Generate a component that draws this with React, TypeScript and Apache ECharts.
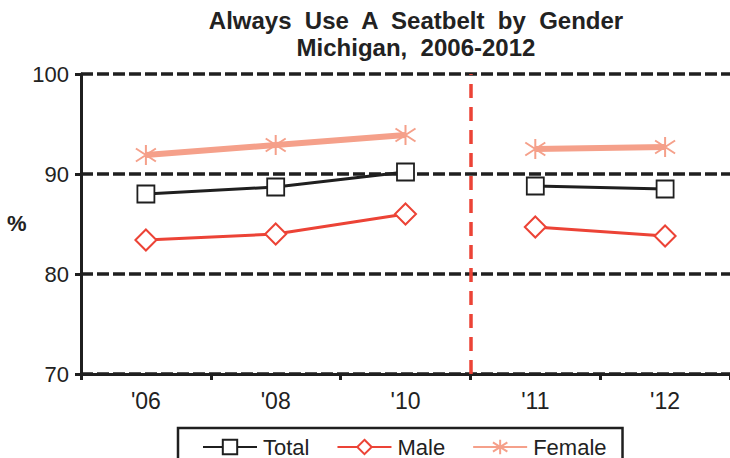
import React, { useEffect, useRef } from "react";
import * as echarts from "echarts";

const categories = ["'06", "'08", "'10", "'11", "'12"];
const totalValues = [88.0, 88.7, 90.2, 88.8, 88.5];
const maleValues = [83.4, 84.0, 86.0, 84.7, 83.8];
const femaleValues = [91.9, 92.9, 93.9, 92.5, 92.7];
const yTicks = [70, 80, 90, 100];
const breakAfterIndex = 3; // boundary between '10 and '11

const FONT = "'Liberation Sans', Arial, sans-serif";
const BLACK = "#1f1f1f";
const RED = "#ec4336";
const SALMON = "#f5a08a";
const STAR = "path://M10,0L10,20M1.5,3.5L18.5,16.5M1.5,16.5L18.5,3.5";

function split(values: number[], part: 0 | 1) {
  return values.map((v, i) =>
    part === 0 ? (i < breakAfterIndex ? v : null) : i >= breakAfterIndex ? v : null
  );
}

export default function App() {
  const ref = useRef<HTMLDivElement>(null);
  useEffect(() => {
    if (!ref.current) return;
    const chart = echarts.init(ref.current, null, { renderer: "svg" });
    const mk = (name: string, values: number[], part: 0 | 1, cfg: any) => ({
      name,
      type: "line",
      data: split(values, part),
      connectNulls: false,
      ...cfg,
    });
    const totalCfg = {
      symbol: "rect",
      symbolSize: 17,
      lineStyle: { color: BLACK, width: 3 },
      itemStyle: { color: "#ffffff", borderColor: BLACK, borderWidth: 1.8 },
      z: 3,
    };
    const maleCfg = {
      symbol: "diamond",
      symbolSize: [21, 21],
      lineStyle: { color: RED, width: 3 },
      itemStyle: { color: "#ffffff", borderColor: RED, borderWidth: 2 },
      z: 2,
    };
    const femaleCfg = {
      symbol: STAR,
      symbolSize: 20,
      lineStyle: { color: SALMON, width: 6 },
      itemStyle: { color: SALMON, borderColor: SALMON, borderWidth: 2 },
      z: 2,
    };
    chart.setOption({
      animation: false,
      title: {
        text: "Always  Use  A  Seatbelt  by  Gender\nMichigan,  2006-2012",
        left: 411,
        textAlign: "center",
        top: 2,
        textStyle: {
          fontFamily: FONT,
          fontSize: 24,
          fontWeight: "bold",
          color: "#222",
          lineHeight: 27,
        },
      },
      graphic: [
        {
          type: "text",
          left: 7,
          top: 212,
          style: { text: "%", font: `bold 22px ${FONT}`, fill: "#222" },
        },
      ],
      legend: {
        top: 428,
        left: 178,
        orient: "horizontal",
        data: ["Total", "Male", "Female"],
        borderColor: BLACK,
        borderWidth: 2.5,
        padding: [8, 16, 30, 24],
        itemWidth: 54,
        itemHeight: 18,
        itemGap: 27,
        textStyle: {
          fontFamily: FONT,
          fontSize: 22,
          lineHeight: 19,
          color: "#222",
          padding: [0, 0, 0, 1],
        },
      },
      grid: { left: 81, right: -1, top: 74, bottom: 84, containLabel: false },
      xAxis: [
        {
          type: "category",
          data: categories,
          boundaryGap: true,
          axisLine: { lineStyle: { color: BLACK, width: 3 } },
          axisTick: { show: true, length: 6, lineStyle: { color: BLACK, width: 3 } },
          axisLabel: { fontFamily: FONT, fontSize: 23, color: "#222", margin: 15 },
          splitLine: { show: false },
        },
        {
          type: "value",
          min: 0,
          max: 5,
          show: false,
          splitLine: { show: false },
        },
      ],
      yAxis: {
        type: "value",
        min: yTicks[0],
        max: yTicks[yTicks.length - 1],
        interval: 10,
        axisLine: { show: true, lineStyle: { color: BLACK, width: 3 } },
        axisTick: { show: true, length: 6, lineStyle: { color: BLACK, width: 3 } },
        axisLabel: { fontFamily: FONT, fontSize: 22, color: "#222", margin: 12 },
        splitLine: { show: true, lineStyle: { color: BLACK, width: 3.5, type: [12, 4] } },
      },
      series: [
        mk("Total", totalValues, 0, totalCfg),
        mk("Total", totalValues, 1, totalCfg),
        mk("Male", maleValues, 0, maleCfg),
        mk("Male", maleValues, 1, maleCfg),
        mk("Female", femaleValues, 0, femaleCfg),
        mk("Female", femaleValues, 1, femaleCfg),
        {
          name: "divider",
          type: "line",
          xAxisIndex: 1,
          data: [[breakAfterIndex, 70]],
          symbol: "none",
          lineStyle: { opacity: 0 },
          markLine: {
            silent: true,
            symbol: ["none", "none"],
            label: { show: false },
            lineStyle: { color: RED, width: 3.5, type: [14, 9] },
            data: [{ xAxis: breakAfterIndex }],
          },
        },
      ],
    });
    return () => chart.dispose();
  }, []);
  return (
    <div
      ref={ref}
      style={{ position: "fixed", left: 0, top: 0, width: 730, height: 458, background: "#fff" }}
    />
  );
}
